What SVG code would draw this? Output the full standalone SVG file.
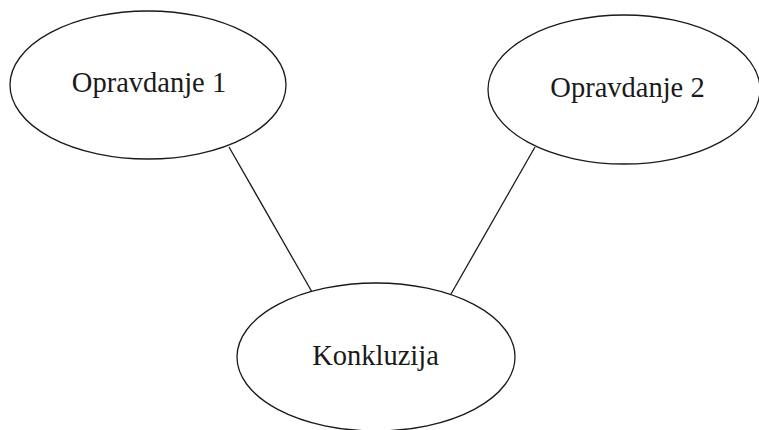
<svg xmlns="http://www.w3.org/2000/svg" width="759" height="430" viewBox="0 0 759 430">
<style>
.n{fill:#fff;stroke:#1a1a1a;stroke-width:1.3}
.t{font-family:"Liberation Serif","Times New Roman",serif;font-size:28.5px;fill:#1a1a1a;text-anchor:middle}
.c{stroke:#1a1a1a;stroke-width:1.3;fill:none}
</style>
<rect width="759" height="430" fill="#fff"/>
<g id="connectors">
<line class="c" x1="229" y1="147" x2="312" y2="292"/>
<line class="c" x1="535" y1="147" x2="451" y2="294"/>
</g>
<g id="opravdanje1">
<ellipse class="n" cx="148" cy="85" rx="138" ry="74"/>
<text class="t" x="149" y="92">Opravdanje 1</text>
</g>
<g id="opravdanje2">
<ellipse class="n" cx="624" cy="89.5" rx="136" ry="74.5"/>
<text class="t" x="627.5" y="97">Opravdanje 2</text>
</g>
<g id="konkluzija">
<ellipse class="n" cx="376" cy="357" rx="139" ry="74"/>
<text class="t" x="375.5" y="365">Konkluzija</text>
</g>
</svg>
